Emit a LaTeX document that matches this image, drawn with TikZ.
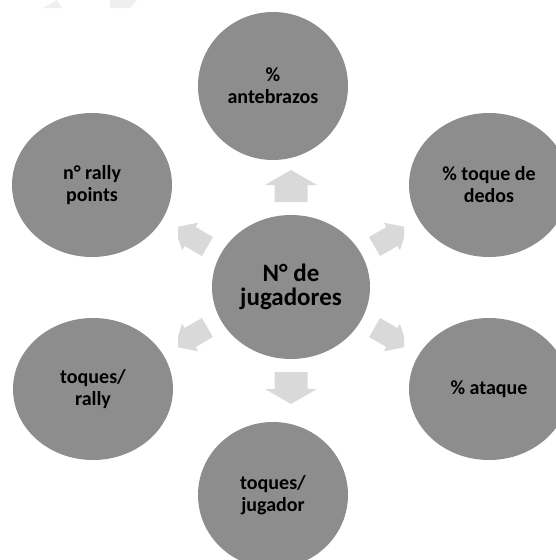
\documentclass[tikz,border=0pt]{standalone}
\usepackage{fontspec}
\setmainfont{Carlito}
\usetikzlibrary{shapes.geometric}
\definecolor{bubblegray}{HTML}{8D8D8D}
\definecolor{arrowgray}{HTML}{D9D9D9}
\definecolor{markgray}{HTML}{EEF0F0}
\tikzset{
  bubble/.style={ellipse, fill=bubblegray, inner sep=0pt, text=black, align=center,
    font=\fontsize{20}{22}\selectfont\bfseries},
  hub/.style={bubble, font=\fontsize{25}{24}\selectfont\bfseries},
  blockarrow/.style={fill=arrowgray, draw=none}
}
\begin{document}
\begin{tikzpicture}[x=1pt,y=-1pt]
\useasboundingbox (0,0) rectangle (556,560);
% faint marks at the top edge
\fill[markgray] (43,8) -- (57,0) -- (62,8) -- cycle;
\fill[markgray] (110,0) -- (137,0) -- (130,8) -- (110,8) -- cycle;
% bubbles
\node[hub, minimum width=158pt, minimum height=144pt] (hubnode) at (291,287) {N° de\\jugadores};
\node[bubble, minimum width=150pt, minimum height=148pt] (top) at (273,86) {\%\\antebrazos};
\node[bubble, minimum width=160pt, minimum height=144pt] (ul) at (92,185) {n° rally\\points};
\node[bubble, minimum width=160pt, minimum height=144pt] (ur) at (489,185) {\% toque de\\dedos};
\node[bubble, minimum width=160pt, minimum height=142pt] (ll) at (93,389) {toques/\\rally};
\node[bubble, minimum width=160pt, minimum height=142pt] (lr) at (489,389) {\% ataque};
\node[bubble, minimum width=150pt, minimum height=146pt] (bot) at (273,495) {toques/\\jugador};
% vertical arrows
\fill[blockarrow] (274.5,202) -- (274.5,185) -- (265,185) -- (291,170) -- (317,185) -- (307.5,185) -- (307.5,202) -- cycle;
\fill[blockarrow] (274.5,372) -- (274.5,389) -- (265,389) -- (291,404) -- (317,389) -- (307.5,389) -- (307.5,372) -- cycle;
% diagonal arrows
\begin{scope}
\clip (178,0) rectangle (404,560);
\foreach \cx/\cy/\ang in {191/237/150, 391/237/30, 191/337/210, 391/337/330}{
  \fill[blockarrow, shift={(\cx,\cy)}, rotate=\ang]
    (-19,-11) -- (1,-11) -- (1,-16) -- (19,0) -- (1,16) -- (1,11) -- (-19,11) -- cycle;
}
\end{scope}
\end{tikzpicture}
\end{document}
